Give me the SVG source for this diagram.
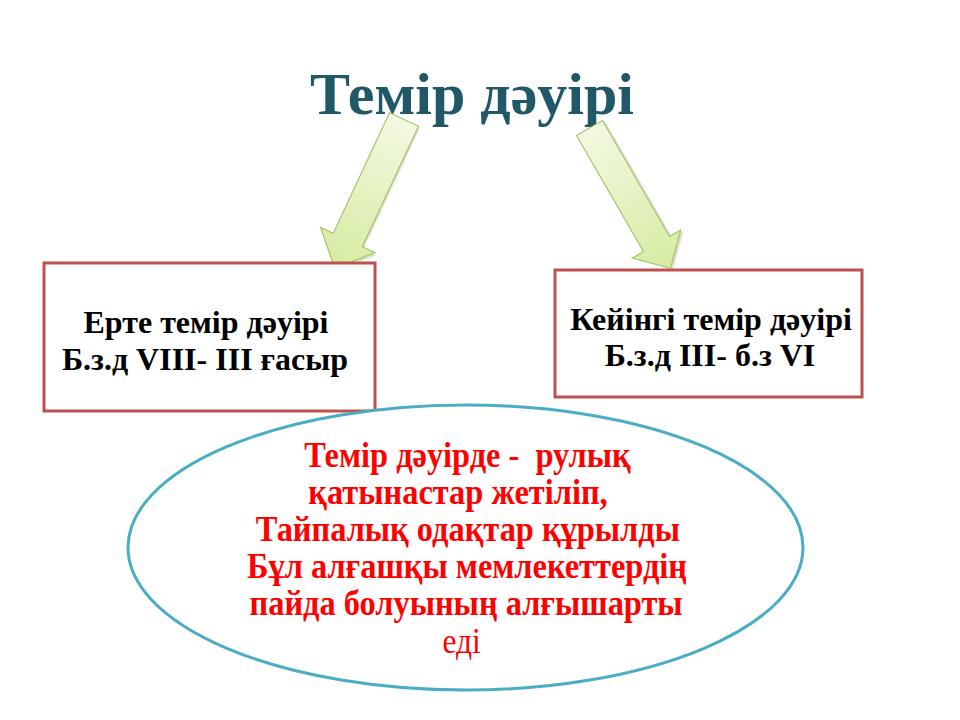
<svg xmlns="http://www.w3.org/2000/svg" width="960" height="720" viewBox="0 0 960 720">
<defs>
<linearGradient id="g" x1="0" y1="0" x2="0" y2="1">
<stop offset="0" stop-color="#f3f9e2"/>
<stop offset="1" stop-color="#d6eba2"/>
</linearGradient>
<style>
.box{fill:#fff;stroke:#c0504d;stroke-width:3}
.arr{fill:url(#g);stroke:#a6c46a;stroke-width:1.2}
.sh{fill:#9aa58a;opacity:0.35}
.bt{font-family:'Liberation Serif',serif;font-weight:bold;font-size:32px;fill:#000;text-anchor:middle}
.rt{font-family:'Liberation Serif',serif;font-weight:bold;font-size:36px;fill:#ff0000;text-anchor:middle}
.rn{font-family:'Liberation Serif',serif;font-weight:normal;font-size:35px;fill:#ff0000;text-anchor:middle}
</style>
</defs>
<rect width="960" height="720" fill="#fff"/>
<g id="title">
<text x="472" y="114" font-family="'Liberation Serif', serif" font-weight="bold" font-size="60" fill="#215868" text-anchor="middle">Темір дәуірі</text>
</g>
<g id="connectors">
<g transform="translate(404,119.5) rotate(25)">
<path class="sh" transform="translate(2,2)" d="M-16,0 L16,0 L16,133 L30,133 L0,164 L-30,133 L-16,133 Z"/>
<path class="arr" d="M-16,0 L16,0 L16,133 L30,133 L0,164 L-30,133 L-16,133 Z"/>
</g>
<g transform="translate(589.5,128) rotate(-30)">
<path class="sh" transform="translate(2,2)" d="M-15,0 L15,0 L15,134 L28,134 L0,162 L-28,134 L-15,134 Z"/>
<path class="arr" d="M-15,0 L15,0 L15,134 L28,134 L0,162 L-28,134 L-15,134 Z"/>
</g>
</g>
<g id="early">
<rect class="box" x="44" y="263" width="331" height="148"/>
<text class="bt" x="206" y="333">Ерте темір дәуірі</text>
<text class="bt" x="205" y="370">Б.з.д VIII- III ғасыр</text>
</g>
<g id="late">
<rect class="box" x="555" y="270" width="307" height="127"/>
<text class="bt" x="711" y="330">Кейінгі темір дәуірі</text>
<text class="bt" x="710" y="366">Б.з.д III- б.з VI</text>
</g>
<g id="summary">
<ellipse cx="465.5" cy="547.5" rx="337.5" ry="142.5" fill="#fff" stroke="#4bacc6" stroke-width="3"/>
<g transform="translate(467,0) scale(0.9,1) translate(-467,0)">
<text class="rt" x="467.5" y="467" xml:space="preserve">Темір дәуірде -  рулық</text>
<text class="rt" x="457" y="504">қатынастар жетіліп,</text>
<text class="rt" x="468" y="541">Тайпалық одақтар құрылды</text>
<text class="rt" x="467" y="578">Бұл алғашқы мемлекеттердің</text>
<text class="rt" x="466" y="615">пайда болуының алғышарты</text>
<text class="rn" x="461" y="653">еді</text>
</g>
</g>
</svg>
